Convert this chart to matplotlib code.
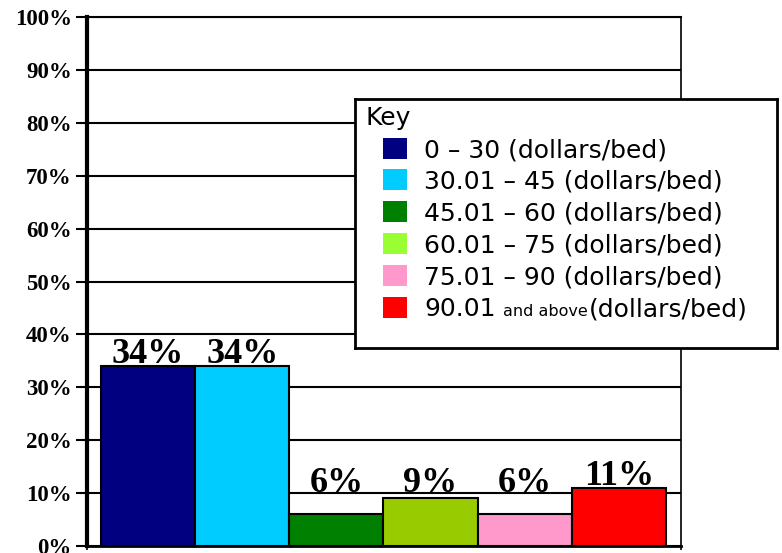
import matplotlib
matplotlib.use('Agg')
import matplotlib.pyplot as plt
from matplotlib.patches import Rectangle

# Share of facilities by price band
ranges = ['0 – 30', '30.01 – 45', '45.01 – 60', '60.01 – 75', '75.01 – 90', '90.01']
unit = '(dollars/bed)'
shares = [34, 34, 6, 9, 6, 11]
ticks = list(range(0, 101, 10))

bar_colors = ['#000080', '#00CCFF', '#008000', '#99CC00', '#FF99CC', '#FF0000']
key_colors = ['#000080', '#00CCFF', '#008000', '#99FF33', '#FF99CC', '#FF0000']

serif = 'Liberation Serif'
sans = 'DejaVu Sans'

fig = plt.figure(figsize=(7.82, 5.53), dpi=100)
ax = fig.add_axes([87 / 782, 7 / 553, 594 / 782, 529 / 553])

x = list(range(len(shares)))
ax.bar(x, shares, width=1.0, color=bar_colors, edgecolor='black', linewidth=1.5, zorder=2)

for xi, v in zip(x, shares):
    ax.text(xi, max(v + 0.6, 10.3), f'{v}%', ha='center', va='baseline',
            fontsize=26, fontweight='bold', family=serif, zorder=4)

ax.set_xlim(-0.649, 5.66)
ax.set_ylim(0, 100)
ax.set_yticks(ticks)
ax.set_yticklabels([f'{t}%' for t in ticks], fontsize=16.5, fontweight='bold', family=serif)
ax.set_xticks([-0.649, 5.66])
ax.set_xticklabels(['', ''])
ax.tick_params(axis='y', direction='out', length=8, width=1.5, pad=3)
ax.tick_params(axis='x', direction='out', length=3, width=1.2)

ax.yaxis.grid(True, color='black', linewidth=1.5)
ax.set_axisbelow(True)
ax.spines['left'].set_linewidth(3)
ax.spines['bottom'].set_linewidth(2)
ax.spines['right'].set_linewidth(1.2)
ax.spines['top'].set_linewidth(1.5)

# key box, laid out in pixel units
lax = fig.add_axes([355 / 782, 205 / 553, 422 / 782, 249 / 553], zorder=5)
lax.set_xlim(0, 422)
lax.set_ylim(249, 0)
lax.set_xticks([])
lax.set_yticks([])
for s in lax.spines.values():
    s.set_linewidth(2)

lax.text(10, 26, 'Key', fontsize=18, family=sans, va='baseline')
renderer = fig.canvas.get_renderer()
inv = lax.transData.inverted()
for i, (r, c) in enumerate(zip(ranges, key_colors)):
    cy = 49 + i * 31.8
    lax.add_patch(Rectangle((28, cy - 10.5), 24, 21, facecolor=c, edgecolor='none'))
    if i < len(ranges) - 1:
        lax.text(69, cy + 9, f'{r} {unit}', fontsize=18, family=sans, va='baseline')
    else:
        t = lax.text(69, cy + 9, r, fontsize=18, family=sans, va='baseline')
        x1 = inv.transform((t.get_window_extent(renderer).x1, 0))[0]
        t2 = lax.text(x1 + 8, cy + 9, 'and above', fontsize=11.5, family=sans, va='baseline')
        x2 = inv.transform((t2.get_window_extent(renderer).x1, 0))[0]
        lax.text(x2 + 1, cy + 9, unit, fontsize=18, family=sans, va='baseline')

fig.savefig('out.png', dpi=100)
